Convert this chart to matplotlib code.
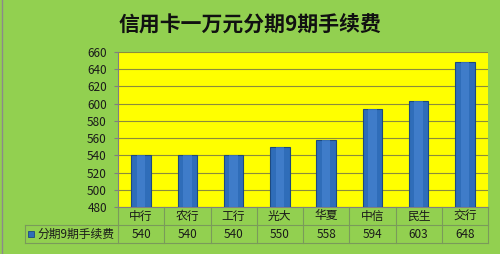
import matplotlib
matplotlib.use("Agg")
import matplotlib.pyplot as plt
from matplotlib.patches import Rectangle
from matplotlib.lines import Line2D

plt.rcParams['font.family'] = ['Noto Sans CJK SC', 'DejaVu Sans']

title = "信用卡一万元分期9期手续费"
series_name = "分期9期手续费"
categories = ["中行", "农行", "工行", "光大", "华夏", "中信", "民生", "交行"]
values = [540, 540, 540, 550, 558, 594, 603, 648]
yticks = [480, 500, 520, 540, 560, 580, 600, 620, 640, 660]

W, H = 500, 254
fig = plt.figure(figsize=(W / 100, H / 100), dpi=100)
fig.patch.set_facecolor('#92D050')

L, R, T, B = 118, 488, 52, 207
ax = fig.add_axes([L / W, 1 - B / H, (R - L) / W, (B - T) / H])
ax.set_facecolor('#FFFF00')

x = list(range(len(categories)))
heights = [v - yticks[0] for v in values]
ax.bar(x, heights, bottom=yticks[0], width=0.42,
       color='#2F6DB9', edgecolor='#1D4A80', linewidth=0.8, zorder=3)
# glossy highlight strip
ax.bar(x, heights, bottom=yticks[0], width=0.18,
       color='#4A87D4', linewidth=0, zorder=4, alpha=0.6)

ax.set_xlim(-0.5, len(categories) - 0.5)
ax.set_ylim(yticks[0], yticks[-1])
ax.set_yticks(yticks)
ax.set_yticklabels([str(t) for t in yticks], fontsize=8.5, color='#1a1a1a')
ax.tick_params(axis='y', length=3, color='#808080', pad=5)
ax.set_xticks([])
ax.grid(axis='y', color='#8C8C3C', linewidth=0.8, zorder=1)
for s in ['top', 'right']:
    ax.spines[s].set_visible(False)
ax.spines['left'].set_color('#808080')
ax.spines['bottom'].set_color('#808080')

# Data table below the axes
fx = lambda px: px / W
fy = lambda py: 1 - py / H
lc = '#7A9A5A'
row1_top, row1_bot, row2_bot = 207, 225, 243
slot = (R - L) / len(categories)
for i in range(len(categories) + 1):
    xp = L + i * slot
    fig.add_artist(Line2D([fx(xp), fx(xp)], [fy(row1_top), fy(row2_bot)], color=lc, lw=0.8))
fig.add_artist(Line2D([fx(25), fx(R)], [fy(row1_bot), fy(row1_bot)], color=lc, lw=0.8))
fig.add_artist(Line2D([fx(25), fx(R)], [fy(row2_bot), fy(row2_bot)], color=lc, lw=0.8))
fig.add_artist(Line2D([fx(25), fx(25)], [fy(row1_bot), fy(row2_bot)], color=lc, lw=0.8))

for i, (c, v) in enumerate(zip(categories, values)):
    xc = L + (i + 0.5) * slot
    fig.text(fx(xc), fy((row1_top + row1_bot) / 2), c, ha='center', va='center',
             fontsize=8.5, color='#1a1a1a')
    fig.text(fx(xc), fy((row1_bot + row2_bot) / 2), str(v), ha='center', va='center',
             fontsize=8.5, color='#1a1a1a')

# legend key
fig.add_artist(Rectangle((fx(28), fy(237)), 6 / W, 6 / H, facecolor='#2F6DB9',
                         edgecolor='#1D4A80', lw=0.6))
fig.text(fx(37), fy((row1_bot + row2_bot) / 2), series_name, ha='left', va='center',
         fontsize=8.5, color='#1a1a1a')

fig.text(0.5, fy(24), title, ha='center', va='center', fontsize=15,
         fontweight='bold', color='#111111')

fig.add_artist(Line2D([fx(2), fx(2)], [0, 1], color='#8A8A8A', lw=1))

fig.savefig('out.png', dpi=100, facecolor=fig.get_facecolor())
